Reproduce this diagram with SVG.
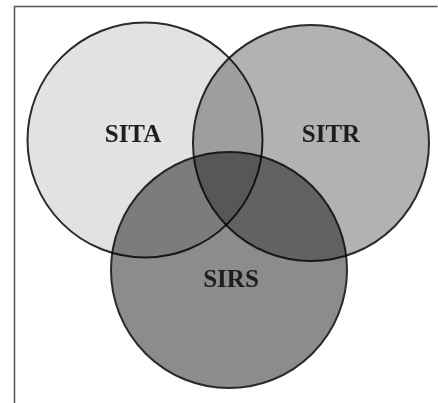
<svg xmlns="http://www.w3.org/2000/svg" width="438" height="403" viewBox="0 0 438 403">
<style>
.c{stroke:#2a2a2a;stroke-width:2;mix-blend-mode:multiply}
.t{font-family:"Liberation Serif",serif;font-weight:bold;font-size:25px;fill:#1e1e1e;text-anchor:middle}
</style>
<rect width="438" height="403" fill="#fff"/>
<path d="M14.5 403 V6.5 H437.5" fill="none" stroke="#555" stroke-width="1.5"/>
<g style="isolation:isolate">
<g id="sita"><circle class="c" cx="145" cy="140" r="117.5" fill="#e2e2e2"/></g>
<g id="sitr"><circle class="c" cx="311" cy="143" r="118" fill="#b2b2b2"/></g>
<g id="sirs"><circle class="c" cx="229" cy="270" r="118" fill="#8c8c8c"/></g>
</g>
<g id="labels">
<text class="t" x="133" y="142">SITA</text>
<text class="t" x="331" y="142">SITR</text>
<text class="t" x="231" y="287">SIRS</text>
</g>
<g id="connectors"/>
</svg>
